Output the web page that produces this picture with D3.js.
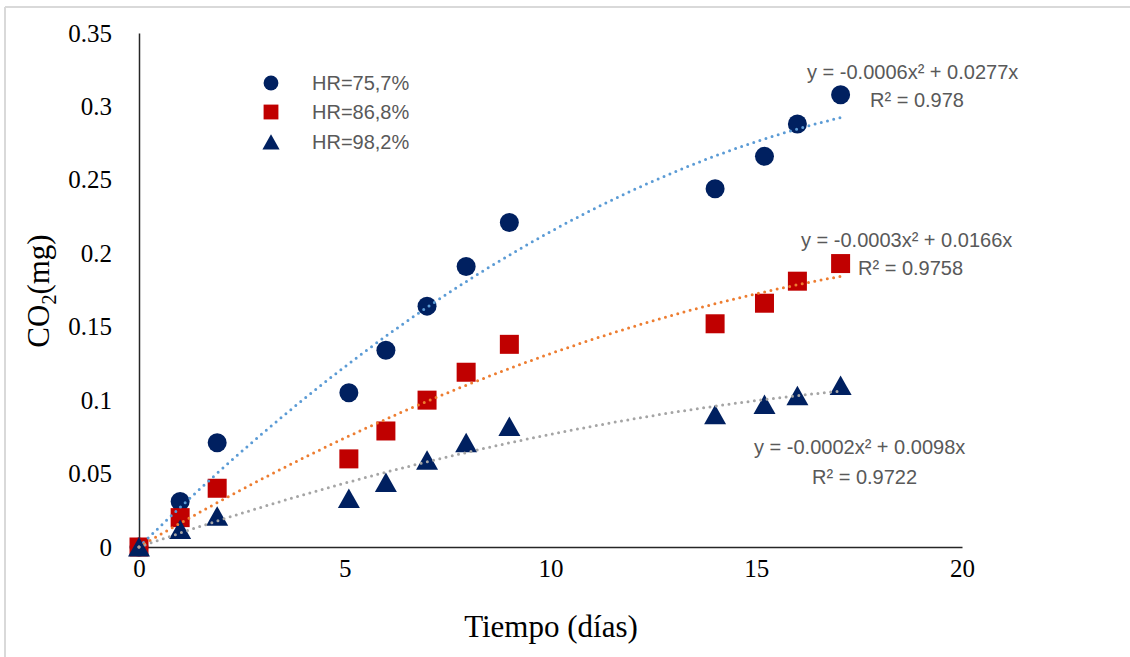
<!DOCTYPE html>
<html>
<head>
<meta charset="utf-8">
<script src="https://cdnjs.cloudflare.com/ajax/libs/d3/7.8.5/d3.min.js"></script>
<style>
  body { margin: 0; background: #fff; }
  svg { display: block; }
  .tick text { font-family: 'Liberation Serif', serif !important; font-size: 25px !important; }
</style>
</head>
<body>
<svg width="1130" height="657"></svg>
<script>
// dias
var dias = [0, 1, 1.9, 5.1, 6, 7, 7.95, 9, 14, 15.2, 16, 17.05];
// CO2 (mg) por humedad relativa
var hr757 = [0, 0.031, 0.071, 0.105, 0.134, 0.164, 0.191, 0.221, 0.244, 0.266, 0.288, 0.308];
var hr868 = [0, 0.020, 0.040, 0.060, 0.079, 0.100, 0.119, 0.138, 0.152, 0.166, 0.181, 0.193];
var hr982 = [0, 0.012, 0.021, 0.033, 0.044, 0.059, 0.071, 0.082, 0.090, 0.097, 0.103, 0.110];
var nombres = ["HR=75,7%", "HR=86,8%", "HR=98,2%"];
var ecuaciones = ["y = -0.0006x\u00B2 + 0.0277x", "y = -0.0003x\u00B2 + 0.0166x", "y = -0.0002x\u00B2 + 0.0098x"];
var r2 = ["R\u00B2 = 0.978", "R\u00B2 = 0.9758", "R\u00B2 = 0.9722"];
var xTicks = [0, 5, 10, 15, 20];
var yTicks = [0, 0.05, 0.1, 0.15, 0.2, 0.25, 0.3, 0.35];

var serif = "'Liberation Serif', 'Times New Roman', serif";
var sans = "'Liberation Sans', Arial, sans-serif";
var svg = d3.select("svg");

// marco
svg.append("line").attr("x1", 5).attr("x2", 1130).attr("y1", 7).attr("y2", 7)
  .attr("stroke", "#d9d9d9").attr("stroke-width", 2);
svg.append("line").attr("x1", 5).attr("x2", 5).attr("y1", 7).attr("y2", 657)
  .attr("stroke", "#d9d9d9").attr("stroke-width", 2);

var x = d3.scaleLinear().domain([0, 20]).range([139, 962]);
var y = d3.scaleLinear().domain([0, 0.35]).range([547, 33]);

// ejes
var gx = svg.append("g").attr("transform", "translate(0," + y(0) + ")");
gx.call(d3.axisBottom(x).tickValues(xTicks).tickSize(0).tickPadding(22).tickFormat(d3.format("d")));
var gy = svg.append("g").attr("transform", "translate(" + x(0) + ",0)");
gy.call(d3.axisLeft(y).tickValues(yTicks).tickSize(0).tickPadding(27)
    .tickFormat(function(d) { return d === 0 ? "0" : String(+d.toFixed(2)); }));
[gx, gy].forEach(function(g) {
  g.attr("font-family", null).attr("font-size", null);
  g.select(".domain").attr("stroke", "#262626").attr("stroke-width", 1.5);
  g.selectAll(".tick text").attr("fill", "#000");
});
gx.selectAll(".tick text").attr("dy", "0.32em");

svg.append("text").attr("x", 551).attr("y", 637).attr("text-anchor", "middle")
  .style("font-family", serif).style("font-size", "31px")
  .text("Tiempo (días)");
var yt = svg.append("text").attr("transform", "translate(49,291) rotate(-90)")
  .attr("text-anchor", "middle")
  .style("font-family", serif).style("font-size", "31px");
yt.append("tspan").text("CO");
yt.append("tspan").style("font-size", "20px").attr("dy", 7).text("2");
yt.append("tspan").attr("dy", -7).text("(mg)");

var series = [
  { vals: hr757, color: "#002060", shape: "circle", trend: "#5b9bd5" },
  { vals: hr868, color: "#c00000", shape: "square", trend: "#ed7d31" },
  { vals: hr982, color: "#002060", shape: "triangle", trend: "#a5a5a5" }
];

function marker(g, shape, color) {
  if (shape === "circle") g.append("circle").attr("r", 9.5).attr("fill", color);
  else if (shape === "square") g.append("rect").attr("x", -9.5).attr("y", -9.5)
    .attr("width", 19).attr("height", 19).attr("fill", color);
  else g.append("path").attr("d", "M0,-10L11,9.5L-11,9.5Z").attr("fill", color);
}

// puntos
series.forEach(function(s) {
  s.vals.forEach(function(v, i) {
    var g = svg.append("g").attr("transform", "translate(" + x(dias[i]) + "," + y(v) + ")");
    marker(g, s.shape, s.color);
  });
});

// lineas de tendencia polinomica (orden 2, intercepto 0) por minimos cuadrados
function ajuste(xs, ys) {
  var s4 = 0, s3 = 0, s2 = 0, sx2y = 0, sxy = 0;
  xs.forEach(function(t, i) {
    s4 += t * t * t * t; s3 += t * t * t; s2 += t * t;
    sx2y += t * t * ys[i]; sxy += t * ys[i];
  });
  var det = s4 * s2 - s3 * s3;
  return [(sx2y * s2 - s3 * sxy) / det, (s4 * sxy - s3 * sx2y) / det];
}
var xmax = d3.max(dias);
series.forEach(function(s) {
  var c = ajuste(dias, s.vals);
  var pts = d3.range(0, 101).map(function(k) { var t = xmax * k / 100; return [t, c[0] * t * t + c[1] * t]; });
  svg.append("path")
    .attr("d", d3.line().x(function(p) { return x(p[0]); }).y(function(p) { return y(p[1]); })(pts))
    .attr("fill", "none").attr("stroke", s.trend).attr("stroke-width", 3)
    .attr("stroke-linecap", "round").attr("stroke-dasharray", "0 6.4");
});

// leyenda
var leyY = [83, 112, 142];
series.forEach(function(s, i) {
  var g = svg.append("g").attr("transform", "translate(271," + leyY[i] + ") scale(0.78)");
  marker(g, s.shape, s.color);
  svg.append("text").attr("x", 312).attr("y", leyY[i]).attr("dy", "0.35em")
    .style("font-family", sans).style("font-size", "20px")
    .attr("fill", "#595959").text(nombres[i]);
});

// etiquetas de ecuaciones
var eqPos = [[807, 72, 870, 100], [801, 240, 858, 268], [754, 447, 812, 477]];
eqPos.forEach(function(p, i) {
  svg.append("text").attr("x", p[0]).attr("y", p[1]).attr("dy", "0.35em")
    .style("font-family", sans).style("font-size", "20px")
    .attr("fill", "#595959").text(ecuaciones[i]);
  svg.append("text").attr("x", p[2]).attr("y", p[3]).attr("dy", "0.35em")
    .style("font-family", sans).style("font-size", "20px")
    .attr("fill", "#595959").text(r2[i]);
});
</script>
</body>
</html>
